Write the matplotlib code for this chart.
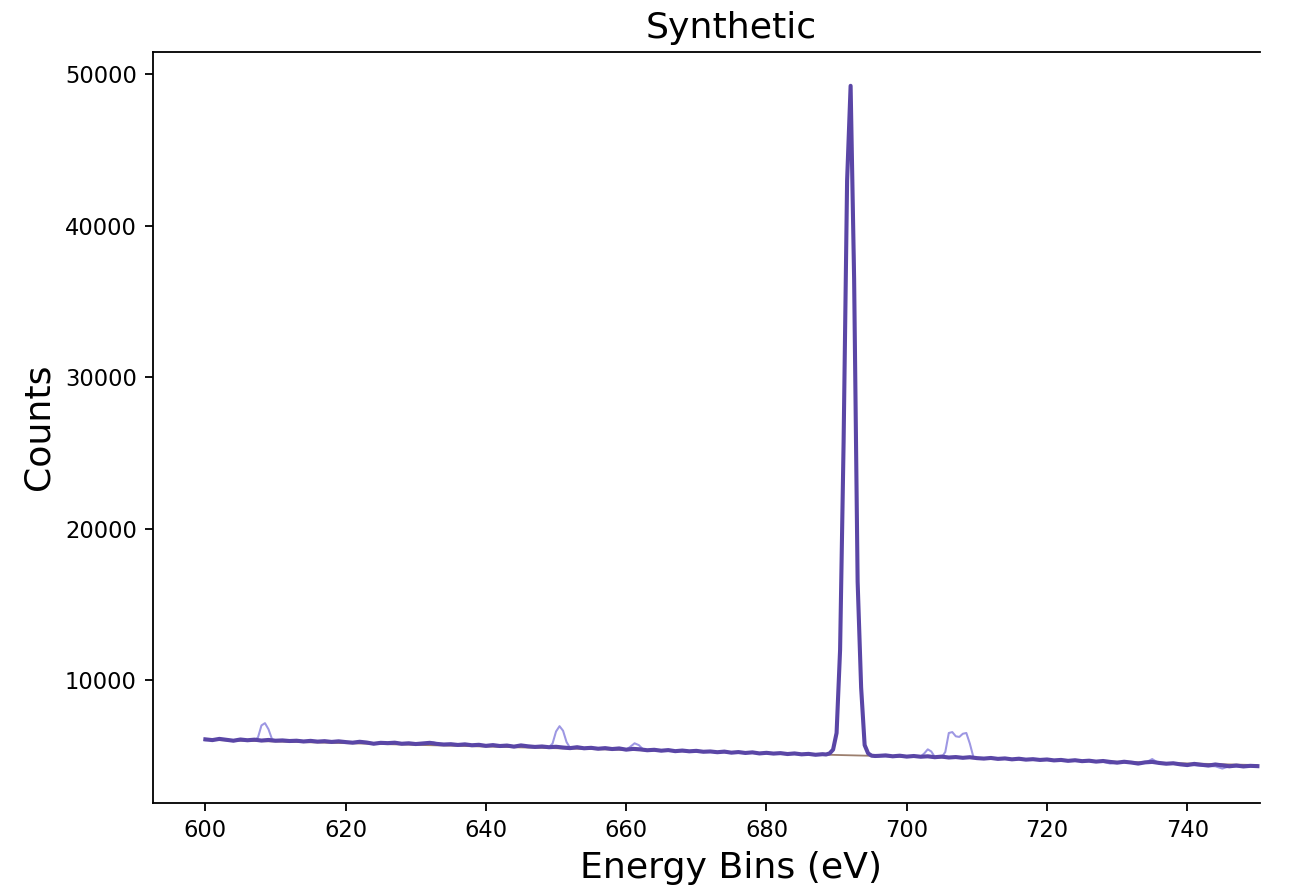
import numpy as np
import matplotlib
matplotlib.use("Agg")
import matplotlib.pyplot as plt

# main synthetic spectrum (dark line)
energy = [
	600, 601, 602, 603, 604, 605, 606, 607, 608, 609,
	610, 611, 612, 613, 614, 615, 616, 617, 618, 619,
	620, 621, 622, 623, 624, 625, 626, 627, 628, 629,
	630, 631, 632, 633, 634, 635, 636, 637, 638, 639,
	640, 641, 642, 643, 644, 645, 646, 647, 648, 649,
	650, 651, 652, 653, 654, 655, 656, 657, 658, 659,
	660, 661, 662, 663, 664, 665, 666, 667, 668, 669,
	670, 671, 672, 673, 674, 675, 676, 677, 678, 679,
	680, 681, 682, 683, 684, 685, 686, 687, 688,
	688.5, 689, 689.5, 690, 690.5, 691, 691.5, 692, 692.5, 693,
	693.5, 694, 694.5, 695, 695.5,
	696, 697, 698, 699, 700, 701, 702, 703, 704, 705,
	706, 707, 708, 709, 710, 711, 712, 713, 714, 715,
	716, 717, 718, 719, 720, 721, 722, 723, 724, 725,
	726, 727, 728, 729, 730, 731, 732, 733, 734, 735,
	736, 737, 738, 739, 740, 741, 742, 743, 744, 745,
	746, 747, 748, 749, 750,
]
counts = [
	6080, 6030, 6110, 6050, 5990, 6070, 6020, 6060, 6000, 6040,
	5990, 6010, 5970, 5990, 5940, 5980, 5930, 5960, 5910, 5950,
	5900, 5860, 5920, 5870, 5790, 5850, 5830, 5860, 5790, 5820,
	5770, 5810, 5850, 5780, 5740, 5760, 5710, 5750, 5690, 5720,
	5650, 5700, 5640, 5670, 5600, 5680, 5620, 5580, 5610, 5560,
	5590, 5540, 5500, 5560, 5490, 5520, 5460, 5500, 5440, 5480,
	5400, 5450, 5420, 5360, 5390, 5330, 5370, 5300, 5340, 5290,
	5320, 5260, 5280, 5230, 5270, 5200, 5240, 5180, 5220, 5150,
	5190, 5140, 5170, 5110, 5150, 5090, 5120, 5060, 5100,
	5080, 5150, 5400, 6500, 12000, 25700, 43000, 49250, 36500, 16500,
	9500, 5700, 5150, 5000, 4980,
	4990, 5020, 4960, 5000, 4940, 4980, 4930, 4960, 4900, 4940,
	4880, 4910, 4860, 4900, 4840, 4810, 4850, 4790, 4820, 4760,
	4800, 4740, 4770, 4720, 4750, 4690, 4720, 4660, 4700, 4640,
	4670, 4610, 4650, 4590, 4540, 4600, 4550, 4480, 4560, 4590,
	4520, 4470, 4500, 4430, 4380, 4460, 4400, 4350, 4420, 4360,
	4300, 4350, 4290, 4330, 4310,
]

# spectrum with extra lines (light line)
energy_raw = [
	600, 602, 604, 606, 607, 607.5, 608, 608.5, 609, 609.5,
	610, 612, 614, 616, 618, 620, 622, 624, 626, 628,
	630, 631.5, 632.5, 633.5, 636, 638, 640, 642, 644, 645,
	646, 648, 649, 649.5, 650, 650.5, 651, 651.5, 652, 654,
	656, 658, 660, 660.5, 661.2, 661.8, 662.5, 664, 666, 668,
	670, 672, 674, 676, 678, 680, 682, 684, 686, 688,
	689, 689.5, 690, 690.5, 691, 691.5, 692, 692.5, 693, 693.5,
	694, 694.5, 695, 696, 698, 700, 702, 702.5, 703, 703.5,
	704, 705, 705.5, 706, 706.5, 707, 707.5, 708, 708.5, 709,
	709.5, 710, 712, 714, 716, 718, 720, 722, 724, 726,
	728, 729, 730, 732, 734, 735, 736, 738, 740, 742,
	744, 745, 746, 748, 750,
]
counts_raw = [
	6020, 6080, 5960, 6050, 6010, 6200, 7000, 7150, 6750, 6100,
	5980, 5950, 5920, 5910, 5890, 5870, 5890, 5770, 5810, 5780,
	5760, 5780, 5880, 5760, 5700, 5680, 5660, 5630, 5600, 5680,
	5590, 5580, 5570, 5800, 6600, 6950, 6650, 5900, 5520, 5480,
	5450, 5430, 5400, 5560, 5820, 5700, 5380, 5360, 5330, 5300,
	5280, 5250, 5230, 5210, 5180, 5150, 5130, 5100, 5080, 5050,
	5120, 5450, 6600, 12200, 26000, 42000, 49200, 38000, 17000, 9300,
	5800, 5100, 4980, 4960, 4950, 4930, 4950, 5150, 5420, 5280,
	4920, 4900, 5250, 6500, 6560, 6280, 6240, 6450, 6500, 5800,
	4920, 4840, 4820, 4790, 4770, 4750, 4720, 4700, 4670, 4640,
	4600, 4480, 4560, 4520, 4530, 4780, 4480, 4460, 4400, 4330,
	4300, 4150, 4300, 4270, 4300,
]

# linear background
energy_bg = [600, 750]
counts_bg = [6050, 4380]

def create_chart():
	dpi = 163
	fig = plt.figure(figsize=(1289 / dpi, 891 / dpi), dpi=dpi)
	ax = fig.add_axes([0.1185, 0.0991, 0.8978, 0.8429])

	ax.plot(energy_raw, counts_raw, color="#9d97e3", linewidth=0.9)
	ax.plot(energy_bg, counts_bg, color="#9c7f6e", linewidth=0.8)
	ax.plot(energy, counts, color="#5a46a6", linewidth=1.8)

	ax.set_title("Synthetic", fontsize=16)
	ax.set_xlabel("Energy Bins (eV)", fontsize=16)
	ax.set_ylabel("Counts", fontsize=16)
	ax.set_xticks(np.arange(600, 741, 20))
	ax.set_yticks(np.arange(10000, 50001, 10000))

	# the reference picture is cut off just past the last bin
	x0, x1 = ax.get_xlim()
	ax.spines["right"].set_visible(False)
	ax.spines["top"].set_bounds(x0, 750.3)
	ax.spines["bottom"].set_bounds(x0, 750.3)

	return fig

def main():
	fig = create_chart()
	fig.savefig("out.png", dpi=163)

if __name__ == "__main__":
	main()
